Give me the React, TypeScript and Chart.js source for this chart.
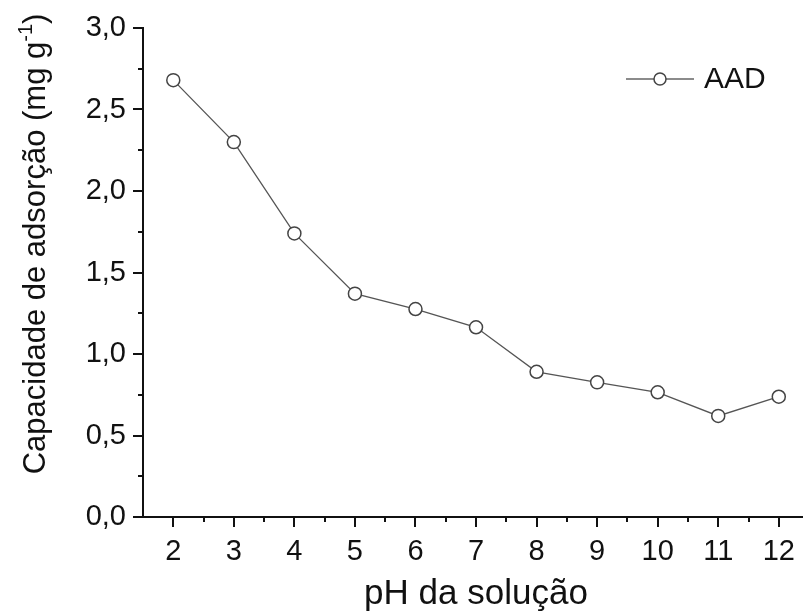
import React, { useEffect, useRef } from "react";
import { Chart, registerables } from "chart.js";

Chart.register(...registerables);

const phValues = [2, 3, 4, 5, 6, 7, 8, 9, 10, 11, 12];
const capacity = [2.68, 2.3, 1.74, 1.37, 1.276, 1.164, 0.891, 0.826, 0.765, 0.62, 0.738];
const xTickValues = [2, 3, 4, 5, 6, 7, 8, 9, 10, 11, 12];
const yTickValues = [0, 0.5, 1.0, 1.5, 2.0, 2.5, 3.0];
const seriesName = "AAD";
const xTitle = "pH da solução";
const yTitleMain = "Capacidade de adsorção (mg g";
const yTitleSup = "-1";
const yTitleEnd = ")";

const FONT = "'Liberation Sans', Arial, Helvetica, sans-serif";

const zeroPad = (s: any) => {
  s.paddingLeft = 0;
  s.paddingRight = 0;
  s.paddingTop = 0;
  s.paddingBottom = 0;
};

const decorPlugin = {
  id: "decor",
  afterDraw(chart: any) {
    const ctx = chart.ctx as CanvasRenderingContext2D;
    const xs = chart.scales.x;
    const ys = chart.scales.y;
    const area = chart.chartArea;
    ctx.save();
    ctx.strokeStyle = "#111";
    ctx.lineWidth = 2;
    for (let v = 2; v <= 12.01; v += 0.5) {
      const px = Math.round(xs.getPixelForValue(v));
      const major = Math.abs(v - Math.round(v)) < 1e-6;
      ctx.beginPath();
      ctx.moveTo(px, area.bottom);
      ctx.lineTo(px, area.bottom + (major ? 10 : 5));
      ctx.stroke();
    }
    for (let v = 0; v <= 3.001; v += 0.25) {
      const py = Math.round(ys.getPixelForValue(v));
      const major = Math.abs(v * 2 - Math.round(v * 2)) < 1e-6;
      ctx.beginPath();
      ctx.moveTo(area.left, py);
      ctx.lineTo(area.left - (major ? 10 : 5), py);
      ctx.stroke();
    }
    ctx.fillStyle = "#111";
    ctx.font = `35px ${FONT}`;
    ctx.textAlign = "center";
    ctx.textBaseline = "alphabetic";
    ctx.fillText(xTitle, 476, 604);
    ctx.save();
    ctx.translate(45, 244);
    ctx.rotate(-Math.PI / 2);
    ctx.textAlign = "left";
    ctx.font = `31px ${FONT}`;
    const w1 = ctx.measureText(yTitleMain).width;
    const w3 = ctx.measureText(yTitleEnd).width;
    ctx.font = `20px ${FONT}`;
    const w2 = ctx.measureText(yTitleSup).width;
    const total = w1 + w2 + w3;
    let x0 = -total / 2;
    ctx.font = `31px ${FONT}`;
    ctx.fillText(yTitleMain, x0, 0);
    x0 += w1;
    ctx.font = `20px ${FONT}`;
    ctx.fillText(yTitleSup, x0, -13);
    x0 += w2;
    ctx.font = `31px ${FONT}`;
    ctx.fillText(yTitleEnd, x0, 0);
    ctx.restore();
    const ly = 79;
    ctx.strokeStyle = "#666";
    ctx.lineWidth = 1.3;
    ctx.beginPath();
    ctx.moveTo(626, ly);
    ctx.lineTo(654, ly);
    ctx.moveTo(666, ly);
    ctx.lineTo(694, ly);
    ctx.stroke();
    ctx.beginPath();
    ctx.arc(660, ly, 6, 0, Math.PI * 2);
    ctx.fillStyle = "#fff";
    ctx.fill();
    ctx.strokeStyle = "#444";
    ctx.lineWidth = 1.5;
    ctx.stroke();
    ctx.fillStyle = "#111";
    ctx.font = `30px ${FONT}`;
    ctx.textAlign = "left";
    ctx.textBaseline = "middle";
    ctx.fillText(seriesName, 704, ly + 1);
    ctx.restore();
  },
};

export default function App() {
  const ref = useRef<HTMLCanvasElement | null>(null);
  useEffect(() => {
    if (!ref.current) return;
    const chart = new Chart(ref.current, {
      type: "line",
      data: {
        datasets: [
          {
            label: seriesName,
            data: phValues.map((x, i) => ({ x, y: capacity[i] })),
            borderColor: "#555",
            borderWidth: 1.3,
            pointRadius: 6.5,
            pointBackgroundColor: "#fff",
            pointBorderColor: "#444",
            pointBorderWidth: 1.5,
            tension: 0,
          },
        ],
      },
      options: {
        animation: false,
        responsive: false,
        events: [],
        layout: { autoPadding: false, padding: { top: 28, left: 0, right: 0, bottom: 0 } },
        plugins: { legend: { display: false }, tooltip: { enabled: false } },
        scales: {
          x: {
            type: "linear",
            min: 1.5,
            max: 12.4,
            grid: { display: false, drawTicks: false, tickLength: 0 },
            border: { display: true, color: "#111", width: 2 },
            afterBuildTicks: (s: any) => {
              s.ticks = xTickValues.map((v) => ({ value: v }));
            },
            afterFit: (s: any) => {
              s.height = 97;
              zeroPad(s);
            },
            ticks: {
              color: "#111",
              padding: 18,
              maxRotation: 0,
              font: { family: FONT, size: 29 },
              callback: (v: any) => String(v),
            },
          },
          y: {
            type: "linear",
            min: 0,
            max: 3,
            grid: { display: false, drawTicks: false, tickLength: 0 },
            border: { display: true, color: "#111", width: 2 },
            afterBuildTicks: (s: any) => {
              s.ticks = yTickValues.map((v) => ({ value: v }));
            },
            afterFit: (s: any) => {
              s.width = 143;
              zeroPad(s);
            },
            ticks: {
              color: "#111",
              padding: 17,
              font: { family: FONT, size: 29 },
              callback: (v: any) => Number(v).toFixed(1).replace(".", ","),
            },
          },
        },
      },
      plugins: [decorPlugin],
    } as any);
    return () => chart.destroy();
  }, []);
  return (
    <div style={{ position: "absolute", left: 0, top: 0, width: 803, height: 614, background: "#fff" }}>
      <canvas ref={ref} width={803} height={614} />
    </div>
  );
}
